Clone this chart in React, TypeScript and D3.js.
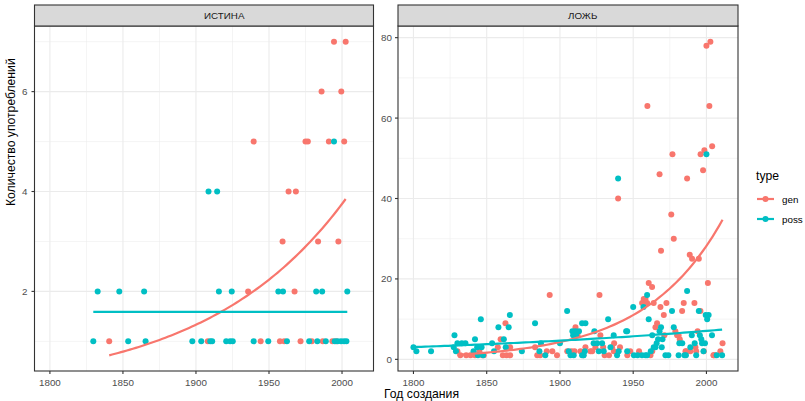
import React from "react";
import * as d3 from "d3";

type Pt = [number, number];

// ---- data: [год, количество] ----
const trueGen: Pt[] = [
  [1840.6, 1], [1908.1, 1], [1935.7, 2], [1939.5, 5], [1944.3, 1], [1957.5, 1], [1959.3, 3],
  [1960.4, 1], [1963.4, 4], [1967.5, 2], [1968.4, 4], [1971.6, 1], [1975, 5], [1976.6, 5],
  [1979.3, 1], [1983.6, 3], [1986, 6], [1986.8, 1], [1991, 5], [1993.4, 1], [1994.5, 7],
  [1996.1, 1], [1997.5, 3], [1999.5, 6], [2001.5, 5], [2002.5, 7],
];
const truePoss: Pt[] = [
  [1829.7, 1], [1832.7, 2], [1847.5, 2], [1853.6, 1], [1864.5, 2], [1865.5, 1], [1897.5, 1],
  [1903.6, 1], [1908.6, 4], [1909.8, 1], [1911.1, 1], [1914.5, 4], [1915.7, 2], [1920.7, 1],
  [1923.4, 1], [1924.5, 2], [1925.2, 1], [1939.5, 1], [1949.5, 1], [1956.4, 2], [1959.6, 2],
  [1962.3, 1], [1977.5, 1], [1982.3, 2], [1983.1, 1], [1986.4, 2], [1988.9, 1], [1994.5, 5],
  [1995, 1], [1997, 1], [1999.3, 1], [2001.4, 1], [2003, 1], [2003.6, 2],
];
const falseGen: Pt[] = [
  [1830, 2], [1832, 1], [1836, 1], [1839, 1], [1842, 1], [1845, 2], [1847, 1], [1848, 1],
  [1857.6, 3], [1859.5, 5], [1862.8, 9], [1861, 1], [1863.5, 1], [1866, 1], [1866, 3],
  [1883, 3], [1884.5, 1], [1886.5, 1], [1891, 2], [1894.8, 2], [1893, 16], [1898, 1],
  [1905, 2], [1908, 2], [1910, 2], [1910.6, 8], [1912, 6], [1914, 2], [1916, 1], [1917.4, 3],
  [1920.8, 2], [1922, 2], [1924.2, 3], [1927, 16], [1927.6, 6], [1929.5, 3], [1930.5, 1],
  [1933.5, 1], [1935.6, 3], [1936.8, 2], [1937, 4], [1941, 3], [1946, 1], [1948, 2], [1954, 2],
  [1939.7, 40], [1956.1, 14], [1957.2, 15], [1958.4, 15], [1959.5, 14], [1960.6, 19],
  [1962.9, 18], [1964, 14], [1961.8, 1], [1963, 2], [1965.2, 8], [1966.3, 9], [1968.6, 13],
  [1970.9, 11], [1971.3, 6], [1972.7, 14], [1969, 27], [1976, 36], [1977.7, 30], [1978.8, 7],
  [1980, 6], [1981, 6], [1981.8, 5], [1983.4, 12], [1984.5, 14], [1985.7, 2], [1986.4, 2],
  [1989, 2], [1988.6, 26], [1990.2, 25], [1991.8, 14], [1994.8, 25], [1994, 7], [1995.9, 12],
  [1992.5, 3], [1993, 2], [1998.2, 2], [2001, 19], [2005, 1], [2006, 1], [2009.5, 2], [2011, 4],
  [2004.8, 1], [1959.7, 63], [1968, 46], [1976.8, 51], [1986.8, 45], [1996, 51], [1997.7, 47],
  [1998.6, 52], [2000, 78], [2002, 63], [2002.7, 79], [2003.9, 53],
];
const falsePoss: Pt[] = [
  [1800, 3], [1802, 2], [1812, 2], [1827.5, 3], [1828, 6], [1829, 2], [1830, 4], [1833, 4],
  [1835.5, 4], [1841, 2], [1842, 5], [1843.5, 3], [1844, 1], [1846, 10], [1846.5, 3],
  [1847.5, 1], [1853.7, 4], [1855, 2], [1858, 8], [1861.7, 5], [1863, 3], [1865, 8],
  [1865.8, 11], [1874, 2], [1883, 9], [1886, 2], [1887, 4], [1890, 1], [1900, 4], [1904.9, 12],
  [1906, 2], [1907.2, 1], [1908.5, 7], [1909, 6], [1909.4, 1], [1910.6, 7], [1911, 6],
  [1913, 7], [1915.1, 9], [1915.1, 1], [1916.2, 1], [1917.4, 9], [1917, 2], [1923, 4],
  [1923.5, 7], [1925.4, 4], [1926.5, 2], [1928.8, 4], [1929.9, 2], [1932.9, 10], [1934.5, 3],
  [1936.7, 6], [1939, 1], [1940.1, 2], [1945.2, 7], [1945.9, 7], [1945.9, 2], [1950, 13],
  [1950.5, 1], [1953, 1], [1956, 1], [1957, 13], [1958.4, 1], [1959.5, 1], [1959.5, 16],
  [1960.6, 10], [1962, 2], [1963, 6], [1964, 3], [1965.2, 3], [1966, 4], [1967, 5], [1968, 7],
  [1969, 8], [1969.5, 3], [1970, 5], [1972, 1], [1974, 1], [1976.5, 12], [1977.7, 8],
  [1981, 1], [1981.5, 4], [1983.5, 4], [1985, 1], [1986, 1], [1986.8, 17], [1989, 3],
  [1990, 6], [1992, 4], [1993, 1], [1994.8, 12], [1995.5, 6], [1996.5, 5], [1997, 4],
  [1998, 2], [1999, 4], [1999.5, 11], [2000.5, 10], [2001.5, 11], [2003.8, 6], [2007, 1],
  [2010.7, 1], [1939.7, 45], [2000, 51],
];

// Poisson-GLM smooth: fitted value at first and last year of each group
const trueGenFit: Pt[] = [[1840.6, 0.72], [2002.5, 3.85]];
const truePossFit: Pt[] = [[1829.7, 1.59], [2003.6, 1.59]];
const falseGenFit: Pt[] = [[1830, 1.15], [2011, 34.7]];
const falsePossFit: Pt[] = [[1800, 3.05], [2010.7, 7.4]];

const facetLabels = ["ИСТИНА", "ЛОЖЬ"];
const xTicks = [1800, 1850, 1900, 1950, 2000];
const xMinor = [1825, 1875, 1925, 1975];
const trueYTicks = [2, 4, 6];
const trueYMinor = [1, 3, 5, 7];
const falseYTicks = [0, 20, 40, 60, 80];
const falseYMinor = [10, 30, 50, 70];
const legendTitle = "type";
const legendLabels = ["gen", "poss"];
const xTitle = "Год создания";
const yTitle = "Количество употреблений";

const GEN = "#F8766D";
const POSS = "#00BFC4";
const FONT = "'Liberation Sans', Arial, Helvetica, sans-serif";

function fitCurve(fit: Pt[]): Pt[] {
  const [[x0, v0], [x1, v1]] = fit;
  const l0 = Math.log(v0), l1 = Math.log(v1);
  return d3.range(0, 81).map((i) => {
    const t = i / 80;
    return [x0 + (x1 - x0) * t, Math.exp(l0 + (l1 - l0) * t)] as Pt;
  });
}

function expand(ext: [number, number]): [number, number] {
  const d = (ext[1] - ext[0]) * 0.05;
  return [ext[0] - d, ext[1] + d];
}

const allYears = [...trueGen, ...truePoss, ...falseGen, ...falsePoss].map((d) => d[0]);
const xDomain = expand(d3.extent(allYears) as [number, number]);

const TOP = 26, BOTTOM = 371, STRIP_TOP = 5;

interface PanelProps {
  label: string; x0: number; x1: number;
  gen: Pt[]; poss: Pt[]; genFit: Pt[]; possFit: Pt[];
  yTicks: number[]; yMinor: number[]; labelGap: number;
}

function Panel(p: PanelProps) {
  const genCurve = fitCurve(p.genFit);
  const possCurve = fitCurve(p.possFit);
  const ys = [...p.gen, ...p.poss, ...genCurve, ...possCurve].map((d) => d[1]);
  const yDomain = expand(d3.extent(ys) as [number, number]);
  const x = d3.scaleLinear().domain(xDomain).range([p.x0, p.x1]);
  const y = d3.scaleLinear().domain(yDomain).range([BOTTOM, TOP]);
  const line = d3.line<Pt>().x((d) => x(d[0])).y((d) => y(d[1]));
  const inY = (v: number) => v >= yDomain[0] && v <= yDomain[1];
  return (
    <g>
      <rect x={p.x0} y={TOP} width={p.x1 - p.x0} height={BOTTOM - TOP} fill="#FFFFFF" />
      {xMinor.map((t) => (
        <line key={"xm" + t} x1={x(t)} x2={x(t)} y1={TOP} y2={BOTTOM} stroke="#EBEBEB" strokeWidth={0.55} />
      ))}
      {p.yMinor.filter(inY).map((t) => (
        <line key={"ym" + t} x1={p.x0} x2={p.x1} y1={y(t)} y2={y(t)} stroke="#EBEBEB" strokeWidth={0.55} />
      ))}
      {xTicks.map((t) => (
        <line key={"xM" + t} x1={x(t)} x2={x(t)} y1={TOP} y2={BOTTOM} stroke="#EBEBEB" strokeWidth={1.1} />
      ))}
      {p.yTicks.map((t) => (
        <line key={"yM" + t} x1={p.x0} x2={p.x1} y1={y(t)} y2={y(t)} stroke="#EBEBEB" strokeWidth={1.1} />
      ))}
      {p.gen.map((d, i) => (
        <circle key={"g" + i} cx={x(d[0])} cy={y(d[1])} r={3} fill={GEN} />
      ))}
      {p.poss.map((d, i) => (
        <circle key={"p" + i} cx={x(d[0])} cy={y(d[1])} r={3} fill={POSS} />
      ))}
      <path d={line(genCurve) || ""} fill="none" stroke={GEN} strokeWidth={2.2} />
      <path d={line(possCurve) || ""} fill="none" stroke={POSS} strokeWidth={2.2} />
      <rect x={p.x0} y={TOP} width={p.x1 - p.x0} height={BOTTOM - TOP} fill="none" stroke="#333333" strokeWidth={1.1} />
      <rect x={p.x0} y={STRIP_TOP} width={p.x1 - p.x0} height={TOP - STRIP_TOP} fill="#D9D9D9" stroke="#333333" strokeWidth={1.1} />
      <text x={(p.x0 + p.x1) / 2} y={19} fontSize={9.8} fill="#1A1A1A" fontFamily={FONT}>{p.label}</text>
      {xTicks.map((t) => (
        <g key={"xt" + t}>
          <line x1={x(t)} x2={x(t)} y1={BOTTOM} y2={BOTTOM + 3} stroke="#333333" strokeWidth={1.1} />
          <text x={x(t)} y={385.5} textAnchor="middle" fontSize={9.8} fill="#4D4D4D" fontFamily={FONT}>{t}</text>
        </g>
      ))}
      {p.yTicks.map((t) => (
        <g key={"yt" + t}>
          <line x1={p.x0 - 3} x2={p.x0} y1={y(t)} y2={y(t)} stroke="#333333" strokeWidth={1.1} />
          <text x={p.x0 - p.labelGap} y={y(t) + 3.5} textAnchor="end" fontSize={9.8} fill="#4D4D4D" fontFamily={FONT}>{t}</text>
        </g>
      ))}
    </g>
  );
}

export default function App() {
  return (
    <svg width={805} height={401} style={{ position: "absolute", left: 0, top: 0, background: "#FFFFFF" }}>
      <rect x={0} y={0} width={805} height={401} fill="#FFFFFF" />
      <Panel label={facetLabels[0]} x0={34.5} x1={373.5} gen={trueGen} poss={truePoss}
        genFit={trueGenFit} possFit={truePossFit} yTicks={trueYTicks} yMinor={trueYMinor} labelGap={7} />
      <Panel label={facetLabels[1]} x0={398} x1={738} gen={falseGen} poss={falsePoss}
        genFit={falseGenFit} possFit={falsePossFit} yTicks={falseYTicks} yMinor={falseYMinor} labelGap={6} />
      <text x={384} y={398} fontSize={12.2} fill="#000000" fontFamily={FONT}>{xTitle}</text>
      <text transform="translate(14.5,206) rotate(-90)" fontSize={12.2} fill="#000000" fontFamily={FONT}>{yTitle}</text>
      <text x={756} y={180} fontSize={12.2} fill="#000000" fontFamily={FONT}>{legendTitle}</text>
      {legendLabels.map((lab, i) => {
        const cy = 199 + i * 20;
        const col = i === 0 ? GEN : POSS;
        return (
          <g key={lab}>
            <line x1={757} x2={774} y1={cy} y2={cy} stroke={col} strokeWidth={2.2} />
            <circle cx={765.5} cy={cy} r={3} fill={col} />
            <text x={782} y={cy + 3.5} fontSize={9.8} fill="#000000" fontFamily={FONT}>{lab}</text>
          </g>
        );
      })}
    </svg>
  );
}
